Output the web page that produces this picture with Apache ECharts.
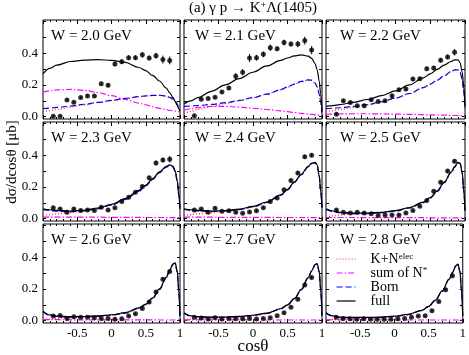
<!DOCTYPE html>
<html>
<head>
<meta charset="utf-8">
<script src="https://cdn.jsdelivr.net/npm/echarts@6/dist/echarts.min.js"></script>
<style>
  html, body { margin: 0; padding: 0; background: #fff; }
  #chart { width: 469px; height: 355px; }
</style>
</head>
<body>
<div id="chart"></div>
<script>
const FONT = 'Liberation Serif'

// energies of the nine panels
const energies = ['2.0', '2.1', '2.2', '2.3', '2.4', '2.5', '2.6', '2.7', '2.8']
// cos(theta) of the data points
const binX = [-0.85, -0.75, -0.65, -0.55, -0.45, -0.35, -0.25, -0.15, -0.05, 0.05, 0.15, 0.25, 0.35, 0.45, 0.55, 0.65, 0.75, 0.85]
// cos(theta) where the model curves are sampled
const curveX = [-1, -0.9, -0.8, -0.6, -0.4, -0.2, 0, 0.2, 0.4, 0.5, 0.6, 0.7, 0.8, 0.85, 0.9, 0.93, 0.96, 0.98, 1]
const yTickValues = [0, 0.1, 0.2, 0.3, 0.4, 0.5, 0.6]
const yLabelValues = [0, 0.2, 0.4]

// data points (ub) and errors
const pts20 = [0.003, 0.003, 0.105, 0.09, 0.12, 0.13, 0.13, 0.207, 0.198, 0.333, 0.347, 0.372, 0.372, 0.39, 0.37, 0.385, 0.36, 0.355]
const err20 = [0.006, 0.006, 0.008, 0.008, 0.008, 0.008, 0.008, 0.012, 0.012, 0.015, 0.015, 0.015, 0.015, 0.018, 0.015, 0.018, 0.025, 0.025]
const pts21 = [0.005, 0.11, 0.115, 0.122, 0.155, 0.18, 0.255, 0.28, 0.37, 0.372, 0.393, 0.435, 0.428, 0.468, 0.458, 0.458, 0.48, 0.42]
const err21 = [0.008, 0.008, 0.008, 0.008, 0.01, 0.012, 0.02, 0.02, 0.025, 0.018, 0.018, 0.02, 0.015, 0.018, 0.015, 0.02, 0.025, 0.025]
const pts22 = [0.015, 0.1, 0.089, 0.068, 0.068, 0.106, 0.095, 0.1, 0.131, 0.17, 0.174, 0.237, 0.239, 0.303, 0.307, 0.356, 0.377, 0.406]
const err22 = [0.01, 0.008, 0.008, 0.008, 0.008, 0.008, 0.008, 0.008, 0.01, 0.01, 0.01, 0.012, 0.01, 0.012, 0.012, 0.015, 0.015, 0.02]
const pts23 = [0.068, 0.061, 0.04, 0.061, 0.051, 0.055, 0.051, 0.072, 0.055, 0.068, 0.108, 0.135, 0.167, 0.203, 0.258, 0.351, 0.37, 0.375]
const err23 = [0.008, 0.008, 0.008, 0.008, 0.008, 0.008, 0.008, 0.008, 0.008, 0.008, 0.008, 0.008, 0.008, 0.01, 0.01, 0.015, 0.015, 0.02]
const pts24 = [0.055, 0.06, 0.04, 0.066, 0.046, 0.05, 0.04, 0.034, 0.042, 0.05, 0.068, 0.108, 0.13, 0.183, 0.24, 0.288, 0.39, 0.4]
const err24 = [0.007, 0.007, 0.007, 0.007, 0.007, 0.007, 0.007, 0.007, 0.007, 0.007, 0.007, 0.008, 0.008, 0.008, 0.01, 0.01, 0.012, 0.012]
const pts25 = [0.055, 0.04, 0.036, 0.04, 0.036, 0.03, 0.019, 0.023, 0.023, 0.023, 0.036, 0.051, 0.078, 0.114, 0.173, 0.23, 0.3, 0.362]
const err25 = [0.006, 0.006, 0.006, 0.006, 0.006, 0.006, 0.006, 0.006, 0.006, 0.006, 0.006, 0.006, 0.007, 0.008, 0.008, 0.01, 0.01, 0.012]
const pts26 = [0.029, 0.033, 0.014, 0.024, 0.022, 0.022, 0.018, 0.014, 0.014, 0.008, 0.012, 0.029, 0.043, 0.077, 0.117, 0.181, 0.261, 0.31]
const err26 = [0.006, 0.006, 0.006, 0.006, 0.006, 0.006, 0.006, 0.006, 0.006, 0.006, 0.006, 0.006, 0.006, 0.007, 0.008, 0.008, 0.01, 0.01]
const pts27 = [0.022, 0.016, 0.01, 0.018, 0.01, 0.014, 0.012, 0.012, 0.014, 0.01, 0.014, 0.018, 0.03, 0.05, 0.085, 0.135, 0.225, 0.272]
const err27 = [0.005, 0.005, 0.005, 0.005, 0.005, 0.005, 0.005, 0.005, 0.005, 0.005, 0.005, 0.005, 0.006, 0.006, 0.007, 0.008, 0.01, 0.01]
const pts28 = [0.022, 0.014, 0.012, 0.008, 0.012, 0.008, 0.008, 0.008, 0.008, 0.012, 0.014, 0.022, 0.029, 0.03, 0.062, 0.12, 0.195, 0.283]
const err28 = [0.005, 0.005, 0.005, 0.005, 0.005, 0.005, 0.005, 0.005, 0.005, 0.005, 0.005, 0.005, 0.006, 0.006, 0.007, 0.008, 0.01, 0.01]

// model curves on curveX
const full20 = [0.27, 0.305, 0.325, 0.348, 0.357, 0.36, 0.355, 0.342, 0.31, 0.29, 0.26, 0.225, 0.18, 0.15, 0.12, 0.095, 0.07, 0.05, 0.035]
const born20 = [0.05, 0.054, 0.058, 0.067, 0.078, 0.09, 0.102, 0.115, 0.126, 0.131, 0.134, 0.135, 0.13, 0.122, 0.11, 0.098, 0.08, 0.062, 0.04]
const elec20 = [0.03, 0.038, 0.046, 0.06, 0.074, 0.088, 0.101, 0.114, 0.125, 0.13, 0.133, 0.134, 0.129, 0.121, 0.109, 0.097, 0.079, 0.061, 0.04]
const nstar20 = [0.155, 0.163, 0.169, 0.172, 0.166, 0.152, 0.132, 0.108, 0.085, 0.075, 0.062, 0.052, 0.044, 0.04, 0.037, 0.035, 0.033, 0.032, 0.03]

const full21 = [0.08, 0.1, 0.12, 0.16, 0.2, 0.24, 0.28, 0.32, 0.355, 0.37, 0.383, 0.39, 0.382, 0.368, 0.335, 0.295, 0.225, 0.145, 0.03]
const born21 = [0.065, 0.067, 0.07, 0.077, 0.088, 0.102, 0.12, 0.142, 0.17, 0.187, 0.205, 0.222, 0.232, 0.23, 0.212, 0.188, 0.142, 0.092, 0.025]
const elec21 = [0.02, 0.032, 0.045, 0.065, 0.082, 0.1, 0.119, 0.141, 0.169, 0.186, 0.204, 0.221, 0.231, 0.229, 0.211, 0.187, 0.141, 0.091, 0.025]
const nstar21 = [0.04, 0.05, 0.057, 0.064, 0.065, 0.06, 0.053, 0.045, 0.036, 0.031, 0.026, 0.021, 0.016, 0.014, 0.012, 0.01, 0.008, 0.007, 0.006]

const full22 = [0.065, 0.07, 0.076, 0.09, 0.108, 0.132, 0.162, 0.2, 0.245, 0.27, 0.298, 0.325, 0.348, 0.358, 0.358, 0.34, 0.28, 0.2, 0.06]
const born22 = [0.05, 0.053, 0.056, 0.065, 0.077, 0.094, 0.117, 0.146, 0.183, 0.205, 0.23, 0.258, 0.285, 0.295, 0.295, 0.28, 0.235, 0.17, 0.05]
const elec22 = [0.032, 0.038, 0.045, 0.058, 0.073, 0.092, 0.116, 0.145, 0.182, 0.204, 0.229, 0.257, 0.284, 0.294, 0.294, 0.279, 0.234, 0.169, 0.05]
const nstar22 = [0.015, 0.016, 0.017, 0.018, 0.018, 0.017, 0.016, 0.014, 0.012, 0.011, 0.01, 0.009, 0.008, 0.007, 0.007, 0.006, 0.006, 0.005, 0.005]

const full23 = [0.062, 0.056, 0.052, 0.048, 0.053, 0.067, 0.09, 0.126, 0.178, 0.212, 0.252, 0.295, 0.33, 0.34, 0.33, 0.3, 0.24, 0.16, 0.06]
const born23 = [0.056, 0.051, 0.047, 0.044, 0.049, 0.063, 0.086, 0.121, 0.173, 0.207, 0.247, 0.29, 0.325, 0.336, 0.326, 0.297, 0.237, 0.158, 0.058]
const elec23 = [0.02, 0.025, 0.03, 0.038, 0.047, 0.062, 0.085, 0.12, 0.172, 0.206, 0.246, 0.289, 0.324, 0.335, 0.325, 0.296, 0.236, 0.157, 0.058]
const nstar23 = [0.01, 0.01, 0.01, 0.009, 0.009, 0.009, 0.008, 0.008, 0.008, 0.007, 0.007, 0.007, 0.007, 0.006, 0.006, 0.006, 0.006, 0.006, 0.006]

const full24 = [0.062, 0.056, 0.052, 0.048, 0.051, 0.06, 0.077, 0.105, 0.15, 0.185, 0.232, 0.28, 0.33, 0.35, 0.355, 0.34, 0.27, 0.18, 0.07]
const born24 = [0.058, 0.052, 0.048, 0.045, 0.048, 0.057, 0.074, 0.102, 0.147, 0.182, 0.229, 0.277, 0.327, 0.347, 0.352, 0.337, 0.268, 0.178, 0.069]
const elec24 = [0.02, 0.025, 0.03, 0.038, 0.045, 0.056, 0.073, 0.101, 0.146, 0.181, 0.228, 0.276, 0.326, 0.346, 0.351, 0.336, 0.267, 0.177, 0.069]
const nstar24 = [0.009, 0.009, 0.009, 0.009, 0.008, 0.008, 0.008, 0.008, 0.007, 0.007, 0.007, 0.007, 0.006, 0.006, 0.006, 0.006, 0.006, 0.006, 0.006]

const full25 = [0.062, 0.048, 0.04, 0.035, 0.035, 0.04, 0.051, 0.07, 0.104, 0.133, 0.175, 0.23, 0.293, 0.328, 0.355, 0.35, 0.29, 0.19, 0.05]
const born25 = [0.058, 0.045, 0.037, 0.032, 0.032, 0.037, 0.048, 0.067, 0.101, 0.13, 0.172, 0.227, 0.29, 0.325, 0.352, 0.347, 0.288, 0.188, 0.05]
const elec25 = [0.01, 0.017, 0.023, 0.029, 0.031, 0.036, 0.047, 0.066, 0.1, 0.129, 0.171, 0.226, 0.289, 0.324, 0.351, 0.346, 0.287, 0.187, 0.05]
const nstar25 = [0.007, 0.007, 0.007, 0.007, 0.006, 0.006, 0.006, 0.006, 0.006, 0.005, 0.005, 0.005, 0.005, 0.005, 0.005, 0.005, 0.005, 0.005, 0.005]

const full26 = [0.06, 0.036, 0.029, 0.025, 0.026, 0.03, 0.037, 0.05, 0.08, 0.104, 0.143, 0.2, 0.275, 0.32, 0.36, 0.365, 0.31, 0.2, 0.03]
const born26 = [0.056, 0.033, 0.026, 0.022, 0.023, 0.027, 0.034, 0.047, 0.077, 0.101, 0.14, 0.197, 0.272, 0.317, 0.357, 0.362, 0.308, 0.198, 0.03]
const elec26 = [0.006, 0.01, 0.014, 0.019, 0.022, 0.026, 0.033, 0.046, 0.076, 0.1, 0.139, 0.196, 0.271, 0.316, 0.356, 0.361, 0.307, 0.197, 0.03]
const nstar26 = [0.006, 0.006, 0.006, 0.005, 0.005, 0.005, 0.005, 0.005, 0.005, 0.005, 0.005, 0.004, 0.004, 0.004, 0.004, 0.004, 0.004, 0.004, 0.004]

const full27 = [0.05, 0.03, 0.025, 0.022, 0.023, 0.027, 0.034, 0.047, 0.075, 0.1, 0.14, 0.197, 0.272, 0.315, 0.355, 0.36, 0.31, 0.2, 0.03]
const born27 = [0.047, 0.028, 0.023, 0.02, 0.021, 0.025, 0.032, 0.045, 0.073, 0.098, 0.138, 0.195, 0.27, 0.313, 0.353, 0.358, 0.308, 0.198, 0.03]
const elec27 = [0.005, 0.009, 0.013, 0.017, 0.02, 0.024, 0.031, 0.044, 0.072, 0.097, 0.137, 0.194, 0.269, 0.312, 0.352, 0.357, 0.307, 0.197, 0.03]
const nstar27 = [0.005, 0.005, 0.005, 0.005, 0.005, 0.005, 0.004, 0.004, 0.004, 0.004, 0.004, 0.004, 0.004, 0.004, 0.004, 0.004, 0.004, 0.004, 0.004]

const full28 = [0.05, 0.03, 0.022, 0.02, 0.02, 0.022, 0.028, 0.04, 0.065, 0.09, 0.13, 0.188, 0.262, 0.305, 0.348, 0.357, 0.31, 0.2, 0.03]
const born28 = [0.047, 0.028, 0.02, 0.018, 0.018, 0.02, 0.026, 0.038, 0.063, 0.088, 0.128, 0.186, 0.26, 0.303, 0.346, 0.355, 0.308, 0.198, 0.03]
const elec28 = [0.005, 0.008, 0.012, 0.015, 0.017, 0.019, 0.025, 0.037, 0.062, 0.087, 0.127, 0.185, 0.259, 0.302, 0.345, 0.354, 0.307, 0.197, 0.03]
const nstar28 = [0.005, 0.005, 0.005, 0.005, 0.004, 0.004, 0.004, 0.004, 0.004, 0.004, 0.004, 0.004, 0.004, 0.004, 0.004, 0.004, 0.004, 0.004, 0.004]

const panels = [
  { pts: pts20, err: err20, full: full20, born: born20, elec: elec20, nstar: nstar20 },
  { pts: pts21, err: err21, full: full21, born: born21, elec: elec21, nstar: nstar21 },
  { pts: pts22, err: err22, full: full22, born: born22, elec: elec22, nstar: nstar22 },
  { pts: pts23, err: err23, full: full23, born: born23, elec: elec23, nstar: nstar23 },
  { pts: pts24, err: err24, full: full24, born: born24, elec: elec24, nstar: nstar24 },
  { pts: pts25, err: err25, full: full25, born: born25, elec: elec25, nstar: nstar25 },
  { pts: pts26, err: err26, full: full26, born: born26, elec: elec26, nstar: nstar26 },
  { pts: pts27, err: err27, full: full27, born: born27, elec: elec27, nstar: nstar27 },
  { pts: pts28, err: err28, full: full28, born: born28, elec: elec28, nstar: nstar28 }
]

const lefts = [43, 184, 326]
const widths = [137, 138, 139]
const tops = [20, 122, 224]
const panelH = 99
const labelX = [51, 195, 340]

const chart = echarts.init(document.getElementById('chart'), null, { renderer: 'canvas' })

const grid = []
const xAxis = []
const yAxis = []
const series = []
const graphic = []

const curveStyles = [
  { key: 'elec', name: 'K+N^elec', color: '#ff2020', type: [1, 2] },
  { key: 'nstar', name: 'sum of N*', color: '#ff00ff', type: [6, 2, 1.5, 2] },
  { key: 'born', name: 'Born', color: '#0000ff', type: [6, 3] },
  { key: 'full', name: 'full', color: '#000000', type: 'solid' }
]

panels.forEach((p, i) => {
  const r = Math.floor(i / 3)
  const c = i % 3
  grid.push({
    left: lefts[c], top: tops[r], width: widths[c], height: panelH,
    show: true, borderColor: '#000', borderWidth: 1
  })
  const xBase = {
    type: 'value', gridIndex: i, min: -1, max: 1, interval: 0.5,
    axisLine: { show: false, onZero: false },
    splitLine: { show: false },
    axisTick: { inside: true, length: 4, lineStyle: { color: '#000' } },
    minorTick: { show: true, splitNumber: 5, length: 2, lineStyle: { color: '#000' } }
  }
  xAxis.push(Object.assign({}, xBase, {
    position: 'bottom',
    axisLabel: {
      show: r === 2, margin: 4, color: '#000', fontFamily: FONT, fontSize: 13,
      showMinLabel: false, showMaxLabel: true,
      formatter: v => (v === -1 ? '' : String(v))
    }
  }))
  xAxis.push(Object.assign({}, xBase, { position: 'top', axisLabel: { show: false } }))

  const yBase = {
    type: 'value', gridIndex: i, min: -0.015, max: 0.61,
    axisLine: { show: false, onZero: false },
    splitLine: { show: false },
    axisTick: { inside: true, length: 3, customValues: yTickValues, lineStyle: { color: '#000' } }
  }
  yAxis.push(Object.assign({}, yBase, {
    position: 'left',
    axisLabel: {
      show: c === 0, margin: 5, color: '#000', fontFamily: FONT, fontSize: 13,
      customValues: yLabelValues, formatter: v => v.toFixed(1)
    }
  }))
  yAxis.push(Object.assign({}, yBase, { position: 'right', axisLabel: { show: false } }))

  curveStyles.forEach(s => {
    series.push({
      name: s.name, type: 'line', xAxisIndex: 2 * i, yAxisIndex: 2 * i,
      data: curveX.map((x, k) => [x, p[s.key][k]]),
      symbol: 'none', showSymbol: false, smooth: 0.35, smoothMonotone: 'x',
      lineStyle: { color: s.color, width: 1.2, type: s.type },
      itemStyle: { color: s.color },
      silent: true, animation: false, clip: true
    })
  })

  series.push({
    type: 'custom', xAxisIndex: 2 * i, yAxisIndex: 2 * i,
    data: binX.map((x, k) => [x, p.pts[k], p.err[k]]),
    encode: { x: 0, y: 1 },
    renderItem: (params, api) => {
      const x = api.value(0), y = api.value(1), e = api.value(2)
      const a = api.coord([x, y + e])
      const b = api.coord([x, y - e])
      return { type: 'line', shape: { x1: a[0], y1: a[1], x2: b[0], y2: b[1] }, style: { stroke: '#000', lineWidth: 1 } }
    },
    silent: true, animation: false, z: 5
  })
  series.push({
    type: 'scatter', xAxisIndex: 2 * i, yAxisIndex: 2 * i,
    data: binX.map((x, k) => [x, p.pts[k]]),
    symbol: 'circle', symbolSize: 5, itemStyle: { color: '#000' },
    silent: true, animation: false, z: 6
  })

  graphic.push({
    type: 'text', x: labelX[c], y: tops[r] + 16,
    style: { text: 'W = ' + energies[i] + ' GeV', font: '15px "' + FONT + '"', fill: '#000', verticalAlign: 'middle' }
  })
})

graphic.push({
  type: 'text', x: 253, y: 8,
  style: {
    text: '(a) γ p → K{sup|+}Λ(1405)', font: '15px "' + FONT + '"', fill: '#000',
    align: 'center', verticalAlign: 'middle',
    rich: { sup: { fontSize: 10, fontFamily: FONT, verticalAlign: 'top', lineHeight: 15 } }
  }
})
graphic.push({
  type: 'text', x: 12, y: 162, rotation: Math.PI / 2,
  style: { text: 'dσ/dcosθ [μb]', font: '15px "' + FONT + '"', fill: '#000', align: 'center', verticalAlign: 'middle' }
})
graphic.push({
  type: 'text', x: 253, y: 347,
  style: { text: 'cosθ', font: '17px "' + FONT + '"', fill: '#000', align: 'center', verticalAlign: 'middle' }
})

chart.setOption({
  backgroundColor: '#fff',
  animation: false,
  grid: grid,
  xAxis: xAxis,
  yAxis: yAxis,
  legend: {
    orient: 'vertical', left: 336, top: 252, padding: 0,
    itemWidth: 19, itemHeight: 14, itemGap: 0,
    selectedMode: false,
    itemStyle: { opacity: 0 },
    lineStyle: { width: 1.2 },
    data: ['K+N^elec', 'sum of N*', 'Born', 'full'],
    formatter: name => {
      if (name === 'K+N^elec') return 'K+N{sup|elec}'
      if (name === 'sum of N*') return 'sum of N{sup|*}'
      return name
    },
    textStyle: {
      fontFamily: FONT, fontSize: 14, color: '#000', lineHeight: 14, padding: [0, 0, 0, 10],
      rich: { sup: { fontFamily: FONT, fontSize: 9, color: '#000', verticalAlign: 'top', lineHeight: 14 } }
    }
  },
  graphic: graphic,
  series: series
})
</script>
</body>
</html>
